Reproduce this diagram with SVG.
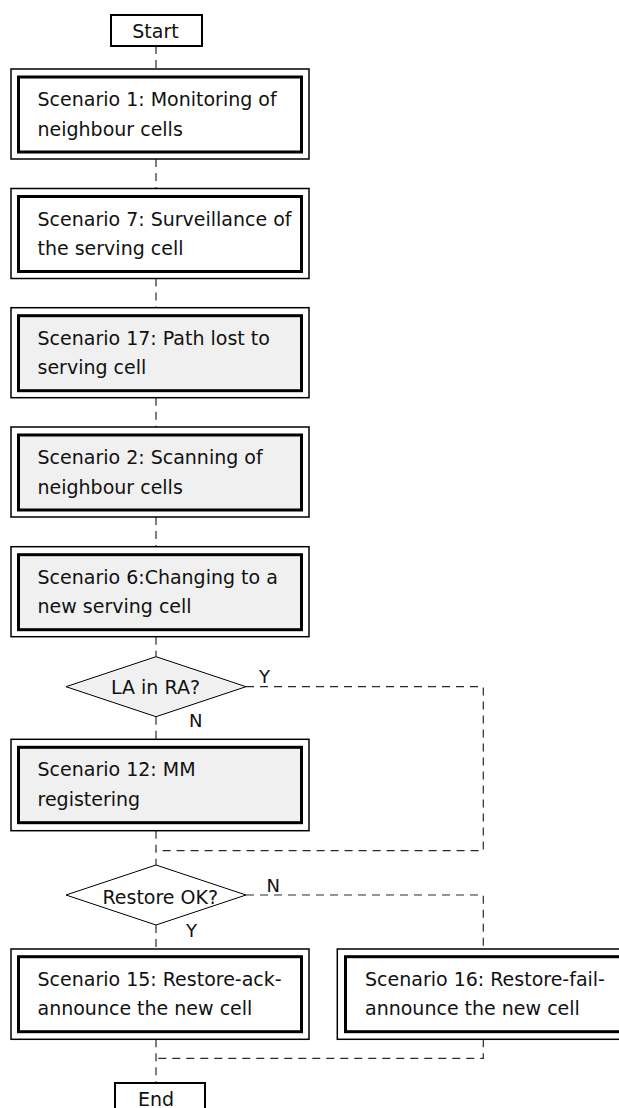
<svg xmlns="http://www.w3.org/2000/svg" width="619" height="1108" viewBox="0 0 619 1108">
<style>
text{font-family:"DejaVu Sans","Liberation Sans",sans-serif;font-size:19px;fill:#111}
.lbl{font-size:18px}
.mid{text-anchor:middle}
.outer{fill:#fff;stroke:#000;stroke-width:1.5}
.inner{fill:#fff;stroke:#000;stroke-width:3}
.grey .inner{fill:#f0f0f0}
.term{fill:#fff;stroke:#000;stroke-width:2}
.dia{stroke:#000;stroke-width:1}
.conn{fill:none;stroke:#2a2a2a;stroke-width:1.2;stroke-dasharray:8,6}
</style>
<rect width="619" height="1108" fill="#fff"/>
<g id="connectors">
<path class="conn" d="M156,46V69"/>
<path class="conn" d="M156,159V188.5"/>
<path class="conn" d="M156,278.5V307.7"/>
<path class="conn" d="M156,397.7V427"/>
<path class="conn" d="M156,517V546.7"/>
<path class="conn" d="M156,636.7V656.7"/>
<path class="conn" d="M156,716.7V739.3"/>
<path class="conn" d="M156,830.7V865"/>
<path class="conn" d="M246,686.7H483.3V850.7H156"/>
<path class="conn" d="M156,925V949"/>
<path class="conn" d="M246,895H483.3V949"/>
<path class="conn" d="M156,1039.3V1083"/>
<path class="conn" d="M483.3,1039.3V1058.3H156"/>
</g>
<g id="start">
<rect class="term" x="111" y="15" width="91" height="31"/>
<text class="mid" x="155.5" y="37.5">Start</text>
</g>
<g id="s1">
<rect class="outer" x="11" y="69" width="298" height="90"/>
<rect class="inner" x="18.5" y="77" width="283" height="75"/>
<text x="37.5" y="106">Scenario 1: Monitoring of</text>
<text x="37.5" y="135.5">neighbour cells</text>
</g>
<g id="s7">
<rect class="outer" x="11" y="188.5" width="298" height="90"/>
<rect class="inner" x="18.5" y="196.5" width="283" height="75"/>
<text x="37.5" y="225.5">Scenario 7: Surveillance of</text>
<text x="37.5" y="255">the serving cell</text>
</g>
<g id="s17" class="grey">
<rect class="outer" x="11" y="307.7" width="298" height="90"/>
<rect class="inner" x="18.5" y="315.7" width="283" height="75"/>
<text x="37.5" y="344.7">Scenario 17: Path lost to</text>
<text x="37.5" y="374.2">serving cell</text>
</g>
<g id="s2" class="grey">
<rect class="outer" x="11" y="427" width="298" height="90"/>
<rect class="inner" x="18.5" y="435" width="283" height="75"/>
<text x="37.5" y="464">Scenario 2: Scanning of</text>
<text x="37.5" y="493.5">neighbour cells</text>
</g>
<g id="s6" class="grey">
<rect class="outer" x="11" y="546.7" width="298" height="90"/>
<rect class="inner" x="18.5" y="554.7" width="283" height="75"/>
<text x="37.5" y="583.7">Scenario 6:Changing to a</text>
<text x="37.5" y="613.2">new serving cell</text>
</g>
<g id="d1">
<polygon class="dia" fill="#f0f0f0" points="156,656.7 246,686.7 156,716.7 66,686.7"/>
<text class="mid" x="155.5" y="694">LA in RA?</text>
<text class="lbl" x="259" y="683">Y</text>
<text class="lbl" x="189" y="727">N</text>
</g>
<g id="s12" class="grey">
<rect class="outer" x="11" y="739.3" width="298" height="91.4"/>
<rect class="inner" x="18.5" y="747.3" width="283" height="75.4"/>
<text x="37.5" y="776">Scenario 12: MM</text>
<text x="37.5" y="805.7">registering</text>
</g>
<g id="d2">
<polygon class="dia" fill="#fff" points="156,865 246,895 156,925 66,895"/>
<text class="mid" x="160.3" y="904">Restore OK?</text>
<text class="lbl" x="266.5" y="891.7">N</text>
<text class="lbl" x="186" y="937">Y</text>
</g>
<g id="s15">
<rect class="outer" x="11" y="949" width="298" height="90.3"/>
<rect class="inner" x="18.5" y="956.7" width="283" height="75"/>
<text x="37.5" y="985.5">Scenario 15: Restore-ack-</text>
<text x="37.5" y="1015">announce the new cell</text>
</g>
<g id="s16">
<rect class="outer" x="337.3" y="949" width="298" height="90.3"/>
<rect class="inner" x="345.5" y="956.7" width="283" height="75"/>
<text x="365" y="985.5">Scenario 16: Restore-fail-</text>
<text x="365" y="1015">announce the new cell</text>
</g>
<g id="end">
<rect class="term" x="115" y="1083" width="90" height="31"/>
<text class="mid" x="156" y="1106">End</text>
</g>
</svg>
